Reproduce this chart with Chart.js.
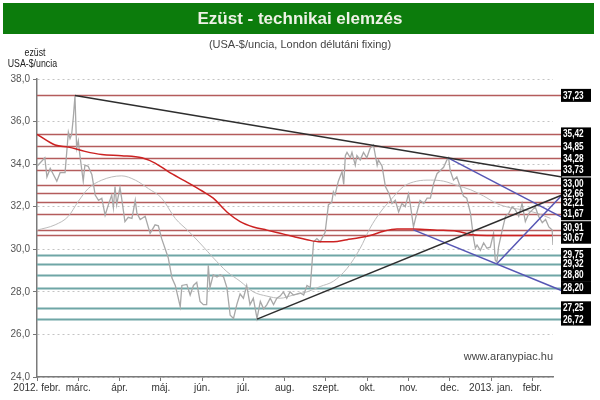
<!DOCTYPE html>
<html>
<head>
<meta charset="utf-8">
<script src="https://cdn.jsdelivr.net/npm/chart.js@4.4.1/dist/chart.umd.min.js"></script>
<style>
  body { margin: 0; background: #fff; }
</style>
</head>
<body>
<canvas id="myChart" width="600" height="400"></canvas>
<script>
// x values are months counted from 2012 Feb (0) to 2013 Feb (12)
const monthLabels = ['2012. febr.', 'márc.', 'ápr.', 'máj.', 'jún.', 'júl.', 'aug.', 'szept.', 'okt.', 'nov.', 'dec.', '2013. jan.', 'febr.'];

const priceMonths = [0.00, 0.19, 0.24, 0.32, 0.40, 0.48, 0.56, 0.68, 0.76, 0.80, 0.84, 0.88, 0.92, 0.96, 1.00, 1.04, 1.12, 1.16, 1.24, 1.33,
  1.41, 1.49, 1.57, 1.65, 1.73, 1.81, 1.85, 1.89, 1.93, 2.01, 2.05, 2.13, 2.21, 2.30, 2.38, 2.42, 2.50, 2.62, 2.74, 2.86,
  2.94, 3.02, 3.10, 3.18, 3.27, 3.35, 3.47, 3.51, 3.63, 3.71, 3.79, 3.87, 3.95, 4.03, 4.11, 4.15, 4.19, 4.27, 4.36, 4.44,
  4.52, 4.60, 4.68, 4.76, 4.84, 4.92, 5.00, 5.08, 5.16, 5.24, 5.33, 5.41, 5.49, 5.57, 5.65, 5.73, 5.81, 5.89, 5.97, 6.05,
  6.13, 6.21, 6.38, 6.46, 6.54, 6.62, 6.70, 6.78, 6.86, 6.98, 7.06, 7.14, 7.18, 7.22, 7.30, 7.39, 7.43, 7.47, 7.51, 7.59,
  7.63, 7.71, 7.75, 7.83, 7.91, 7.99, 8.07, 8.15, 8.24, 8.27, 8.36, 8.44, 8.52, 8.60, 8.68, 8.76, 8.84, 8.92, 9.00, 9.04,
  9.12, 9.20, 9.28, 9.37, 9.45, 9.53, 9.61, 9.69, 9.77, 9.85, 9.93, 9.97, 10.01, 10.09, 10.17, 10.25, 10.33, 10.41, 10.50, 10.58,
  10.62, 10.66, 10.74, 10.82, 10.90, 10.98, 11.06, 11.10, 11.14, 11.18, 11.27, 11.35, 11.43, 11.51, 11.59, 11.67, 11.75, 11.83, 11.92, 12.00,
  12.07, 12.15, 12.24, 12.32, 12.40, 12.48, 12.50];
const priceValues = [33.9, 34.3, 33.4, 33.8, 33.5, 33.2, 33.6, 33.6, 35.5, 35.2, 35.4, 36.2, 37.2, 34.75, 35.1, 34.4, 33.2, 33.95, 33.9, 33.5,
  32.55, 32.3, 32.4, 31.6, 32.1, 32.55, 31.95, 32.95, 32.1, 32.9, 32.4, 31.3, 31.5, 31.45, 32.3, 31.7, 31.4, 31.55, 30.75, 31.15,
  31.1, 30.5, 30.05, 29.6, 28.65, 28.3, 27.3, 28.3, 28.35, 27.85, 28.3, 28.45, 27.55, 27.4, 27.4, 29.25, 28.2, 28.8, 28.7, 28.8,
  28.7, 28.2, 26.9, 26.75, 27.4, 27.9, 27.7, 28.3, 27.4, 27.7, 26.75, 27.55, 27.2, 27.4, 27.7, 27.4, 27.7, 27.8, 28.0, 27.7,
  28.0, 27.85, 27.95, 27.85, 28.3, 28.2, 30.35, 30.5, 30.35, 30.8, 32.1, 32.2, 32.7, 32.55, 33.2, 33.65, 33.05, 34.4, 34.55, 34.3,
  34.55, 33.95, 34.4, 34.2, 34.55, 34.3, 34.75, 34.9, 33.95, 34.2, 33.9, 32.95, 32.65, 32.15, 32.3, 31.75, 32.15, 32.0, 32.6, 32.15,
  31.05, 31.7, 32.3, 32.15, 32.4, 32.4, 33.1, 33.55, 33.7, 33.85, 34.2, 34.3, 33.7, 33.25, 33.4, 32.95, 32.5, 32.4, 31.7, 30.45,
  30.05, 30.2, 29.95, 30.3, 30.05, 30.1, 30.75, 29.5, 29.4, 30.1, 30.9, 31.55, 31.7, 32.0, 31.85, 31.55, 32.15, 31.3, 31.7, 31.85,
  32.0, 31.55, 31.25, 31.4, 31.05, 30.9, 30.2];

// short moving average (thin gray)
const maShortMonths = [0, 0.44, 0.76, 1.0, 1.24, 1.57, 2.05, 2.38, 2.70, 3.02, 3.35, 3.67, 3.99, 4.27, 4.60, 4.92, 5.24, 5.57, 5.89, 6.21,
  6.54, 6.86, 7.18, 7.51, 7.83, 8.07, 8.32, 8.56, 8.88, 9.20, 9.53, 9.85, 10.17, 10.50, 10.82, 11.14, 11.47, 11.79, 12.11, 12.44];
const maShortValues = [30.9, 31.15, 31.55, 32.25, 32.85, 33.25, 33.45, 33.25, 32.85, 32.4, 31.45, 30.85, 30.2, 29.6, 28.95, 28.5, 28.0, 27.8, 27.7, 27.85,
  28.0, 28.25, 28.5, 29.1, 30.05, 31.0, 31.75, 32.3, 32.95, 33.2, 33.25, 33.2, 33.0, 32.8, 32.5, 32.15, 31.95, 31.85, 31.7, 31.45];

// long moving average (red)
const maLongMonths = [0, 0.44, 0.76, 1.16, 1.57, 2.05, 2.54, 2.86, 3.18, 3.59, 3.99, 4.27, 4.60, 4.92, 5.24, 5.57, 5.89, 6.21, 6.54, 6.86,
  7.18, 7.51, 7.83, 8.07, 8.40, 8.72, 9.12, 9.69, 10.17, 10.50, 10.90, 11.30, 12.48];
const maLongValues = [35.4, 34.9, 34.8, 34.6, 34.45, 34.4, 34.3, 34.05, 33.65, 33.2, 32.75, 32.4, 31.75, 31.3, 31.05, 30.9, 30.75, 30.6, 30.45, 30.35,
  30.35, 30.45, 30.55, 30.65, 30.85, 30.95, 30.95, 30.9, 30.85, 30.7, 30.65, 30.65, 30.65];

// trend lines: [start, end]
const topTrendMonths = [0.92, 12.72];
const topTrendValues = [37.23, 33.40];
const riseTrendMonths = [5.33, 12.72];
const riseTrendValues = [26.72, 32.55];
const chanTopMonths = [9.97, 12.72];
const chanTopValues = [34.28, 31.50];
const chanLowMonths = [9.12, 12.72];
const chanLowValues = [30.91, 28.05];
const chanRiseMonths = [11.14, 12.72];
const chanRiseValues = [29.32, 32.55];

const resistLevels = [37.23, 35.42, 34.85, 34.28, 33.73, 33.00, 32.66, 32.21, 31.67, 30.91, 30.67];
const supportLevels = [29.75, 29.32, 28.80, 28.20, 27.25, 26.72];

const pts = (xs, ys) => xs.map((x, i) => ({x: x, y: ys[i]}));
const fmt = v => v.toFixed(2).replace('.', ',');

// green banner + texts
const headerPlugin = {
    id: 'header',
    beforeDraw(chart) {
        const ctx = chart.ctx;
        ctx.save();
        ctx.fillStyle = '#fff';
        ctx.fillRect(0, 0, chart.width, chart.height);
        ctx.fillStyle = '#0c7c0c';
        ctx.fillRect(3, 3, 591, 31);
        ctx.fillStyle = '#eef2e6';
        ctx.font = 'bold 17px "Liberation Sans", Arial, sans-serif';
        ctx.textAlign = 'center';
        ctx.textBaseline = 'middle';
        ctx.fillText('Ezüst - technikai elemzés', 300, 19);
        ctx.fillStyle = '#444';
        ctx.font = '11px "Liberation Sans", Arial, sans-serif';
        ctx.fillText('(USA-$/uncia, London délutáni fixing)', 300, 45);
        ctx.fillStyle = '#222';
        ctx.font = '10px "Liberation Sans", sans-serif';
        ctx.translate(35, 0);
        ctx.scale(0.88, 1);
        ctx.fillText('ezüst', 0, 53);
        ctx.fillText('USA-$/uncia', -3, 64);
        ctx.restore();
    }
};

// horizontal support / resistance levels with black value boxes
const levelPlugin = {
    id: 'levels',
    beforeDatasetsDraw(chart) {
        const {ctx, chartArea, scales} = chart;
        ctx.save();
        const draw = (v, color, w) => {
            const y = Math.round(scales.y.getPixelForValue(v)) + 0.5;
            ctx.strokeStyle = color;
            ctx.lineWidth = w;
            ctx.beginPath();
            ctx.moveTo(chartArea.left, y);
            ctx.lineTo(chartArea.right + 8, y);
            ctx.stroke();
        };
        resistLevels.forEach(v => draw(v, '#b45c5c', 1.5));
        supportLevels.forEach(v => draw(v, '#6fa6a6', 2));
        ctx.restore();
    },
    afterDraw(chart) {
        const {ctx, chartArea, scales} = chart;
        const all = resistLevels.concat(supportLevels);
        const ys = all.map(v => scales.y.getPixelForValue(v));
        const gap = 9.5;
        for (let k = 0; k < 20; k++) {
            for (let i = 0; i < ys.length - 1; i++) {
                const d = ys[i + 1] - ys[i];
                if (d < gap) {
                    ys[i] -= (gap - d) / 2;
                    ys[i + 1] += (gap - d) / 2;
                }
            }
        }
        const x0 = chartArea.right + 8;
        ctx.save();
        ctx.fillStyle = '#000';
        ys.forEach(y => ctx.fillRect(x0, y - 6.5, 30, 13));
        ctx.fillStyle = '#fff';
        ctx.font = 'bold 11px "Liberation Sans", sans-serif';
        ctx.textAlign = 'left';
        ctx.textBaseline = 'middle';
        all.forEach((v, i) => {
            ctx.save();
            ctx.translate(x0 + 2, ys[i] + 0.5);
            ctx.scale(0.75, 1);
            ctx.fillText(fmt(v), 0, 0);
            ctx.restore();
        });

        ctx.fillStyle = '#444';
        ctx.font = '11px "Liberation Sans", Arial, sans-serif';
        ctx.textAlign = 'right';
        ctx.fillText('www.aranypiac.hu', chartArea.right, 357);
        ctx.restore();
    }
};

let myChart = document.getElementById('myChart').getContext('2d');

Chart.defaults.font.family = '"Liberation Sans", Arial, sans-serif';
Chart.defaults.font.size = 10;
Chart.defaults.color = '#444';

let silverChart = new Chart(myChart, {
    type: 'line',
    data: {
        datasets: [
            { data: pts(topTrendMonths, topTrendValues), borderColor: '#2e2e2e', borderWidth: 1.5, clip: false },
            { data: pts(riseTrendMonths, riseTrendValues), borderColor: '#2e2e2e', borderWidth: 1.5, clip: false },
            { data: pts(chanTopMonths, chanTopValues), borderColor: '#5656b4', borderWidth: 1.5, clip: false },
            { data: pts(chanLowMonths, chanLowValues), borderColor: '#5656b4', borderWidth: 1.5, clip: false },
            { data: pts(chanRiseMonths, chanRiseValues), borderColor: '#5656b4', borderWidth: 1.5, clip: false },
            { data: pts(maLongMonths, maLongValues), borderColor: '#cc2222', borderWidth: 1.5, cubicInterpolationMode: 'monotone' },
            { data: pts(priceMonths, priceValues), borderColor: '#a8a8a8', borderWidth: 1.3 },
            { data: pts(maShortMonths, maShortValues), borderColor: '#bcbcbc', borderWidth: 1, cubicInterpolationMode: 'monotone' }
        ]
    },
    options: {
        responsive: false,
        animation: false,
        elements: { point: { radius: 0 }, line: { tension: 0 } },
        layout: { padding: { top: 79, right: 47, bottom: 0, left: 0 } },
        plugins: {
            legend: { display: false },
            tooltip: { enabled: false }
        },
        scales: {
            x: {
                type: 'linear',
                min: 0,
                max: 12.5,
                afterFit(scale) { scale.height = 23; },
                ticks: {
                    stepSize: 1,
                    autoSkip: false,
                    includeBounds: false,
                    maxRotation: 0,
                    padding: 1,
                    color: '#333',
                    callback: v => monthLabels[v] !== undefined ? monthLabels[v] : ''
                },
                grid: { drawOnChartArea: false, tickLength: 4, tickColor: '#777', tickWidth: 1 },
                border: { color: '#7a7a7a', width: 1.5 }
            },
            y: {
                min: 24,
                max: 38,
                afterFit(scale) { scale.width = 37; },
                ticks: {
                    stepSize: 2,
                    padding: 3,
                    color: '#555',
                    callback: v => v.toFixed(1).replace('.', ',')
                },
                grid: { color: '#c4c4c4', lineWidth: 1, tickLength: 4, tickColor: '#777', tickBorderDash: [] },
                border: { color: '#7a7a7a', width: 1.5, dash: [2, 3] }
            }
        }
    },
    plugins: [headerPlugin, levelPlugin]
});
</script>
</body>
</html>
